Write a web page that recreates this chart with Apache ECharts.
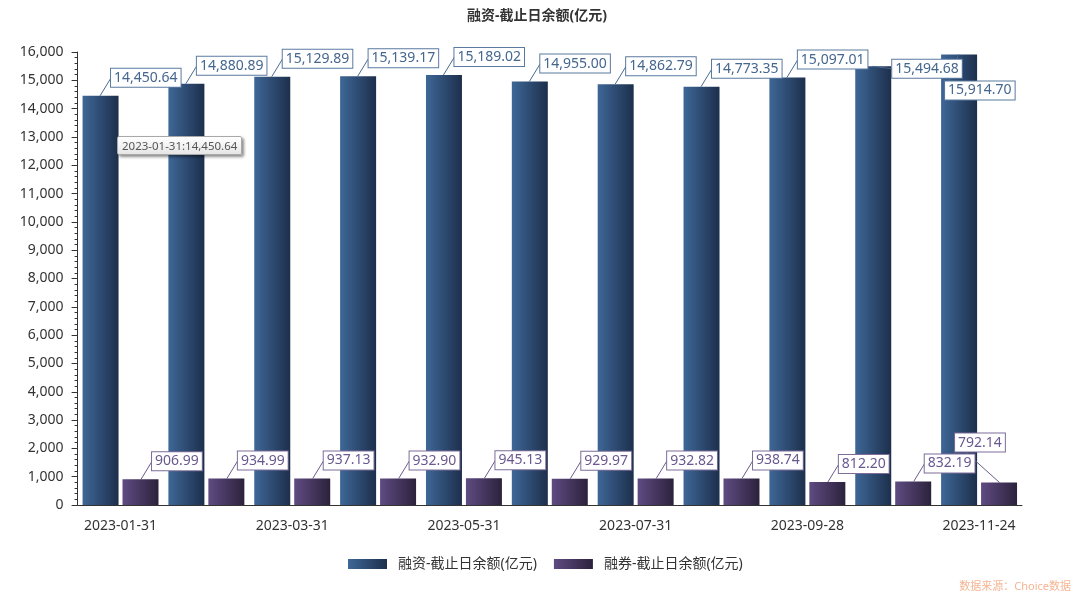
<!DOCTYPE html>
<html><head><meta charset="utf-8">
<script src="https://cdn.jsdelivr.net/npm/echarts@6/dist/echarts.min.js"></script>
<style>html,body{margin:0;padding:0;background:#fff}#c{width:1080px;height:598px}</style>
</head><body><div id="c"></div>
<script>
// ---- data ----
const categories = ['2023-01-31','2023-02-28','2023-03-31','2023-04-28','2023-05-31','2023-06-30','2023-07-31','2023-08-31','2023-09-28','2023-10-31','2023-11-24'];
const marginBalance = [14450.64,14880.89,15129.89,15139.17,15189.02,14955.00,14862.79,14773.35,15097.01,15494.68,15914.70];
const shortBalance = [906.99,934.99,937.13,932.90,945.13,929.97,932.82,938.74,812.20,832.19,792.14];
const seriesNames = ['融资-截止日余额(亿元)','融券-截止日余额(亿元)'];
const chartTitle = '融资-截止日余额(亿元)';
const sourceText = '数据来源：Choice数据';
const yMin = 0, yMax = 16000, yInterval = 1000;

// ---- label placement (style, not data) ----
const DEFAULT_OFF = [11, -18];
const blueOffsetOverrides = {9: [19.5, 2.5], 10: [-13.5, 36]};
const purpleOffsetOverrides = {10: [-44.5, -40]};
const BAR_SHIFT = 20.5;

const FONT = '"Noto Sans","Noto Sans CJK SC",sans-serif';
const fmt2 = v => v.toLocaleString('en-US',{minimumFractionDigits:2,maximumFractionDigits:2});

function grad(c1, c2){
  return {type:'linear',x:0,y:0,x2:1,y2:0,colorStops:[{offset:0,color:c1},{offset:1,color:c2}]};
}

function labelSeries(values, shift, overrides, textColor, borderColor, lineColor){
  return {
    type:'custom', z:5, silent:true, tooltip:{show:false},
    data: values.map((v,i)=>[i,v]),
    encode:{x:0,y:1},
    renderItem:function(params, api){
      const i = api.value(0), v = api.value(1);
      const p = api.coord([i, v]);
      const cx = p[0] + shift, ty = p[1];
      const off = overrides[i] || DEFAULT_OFF;
      const ax = cx + off[0], ay = ty + off[1];
      return {type:'group', children:[
        {type:'line', z2:1, shape:{x1:cx,y1:ty,x2:ax,y2:ay}, style:{stroke:lineColor,lineWidth:1}},
        {type:'text', z2:10, x:ax, y:ay, style:{
          text: fmt2(v), fill:textColor, font:'14px '+FONT, align:'left', verticalAlign:'middle',
          backgroundColor:'#fff', borderColor:borderColor, borderWidth:1, padding:[1,3,1,3], lineHeight:16
        }}
      ]};
    }
  };
}

const chart = echarts.init(document.getElementById('c'));
chart.setOption({
  animation:false,
  backgroundColor:'#fff',
  title:[
    {text:chartTitle, left:462, top:4, textStyle:{fontSize:14,fontWeight:'bold',color:'#333',fontFamily:FONT}},
    {text:sourceText, right:4, bottom:1, textStyle:{fontSize:11,fontWeight:'normal',color:'#f4b594',fontFamily:FONT}}
  ],
  grid:{left:77.6, right:58, top:52, bottom:93, containLabel:false},
  tooltip:{
    trigger:'item', triggerOn:'none', alwaysShowContent:true, transitionDuration:0,
    position:[117,136], padding:[1,4],
    backgroundColor:'#f6f6f6', borderColor:'#a8a8a8', borderWidth:1, borderRadius:2,
    textStyle:{fontSize:11.5,color:'#555',fontFamily:FONT},
    extraCssText:'background:linear-gradient(#ffffff,#e6e6e6);box-shadow:2px 2px 3px rgba(0,0,0,0.45);line-height:15px;',
    formatter:p=>p.name+':'+fmt2(p.value)
  },
  legend:{
    data:seriesNames, left:343, top:552, itemWidth:39, itemHeight:10, itemGap:17,
    icon:'rect',
    textStyle:{fontSize:14,color:'#333',fontFamily:FONT,padding:[0,0,0,6]}
  },
  xAxis:{
    type:'category', data:categories,
    axisLine:{lineStyle:{color:'#333'}},
    axisTick:{alignWithLabel:true, interval:0, length:5, lineStyle:{color:'#333'}},
    axisLabel:{interval:1, margin:14, fontSize:14, color:'#333', fontFamily:FONT}
  },
  yAxis:{
    type:'value', min:yMin, max:yMax, interval:yInterval,
    axisLine:{show:true,lineStyle:{color:'#333'}},
    axisTick:{show:true,length:6,lineStyle:{color:'#333'}},
    minorTick:{show:true,splitNumber:5,length:3,lineStyle:{color:'#333'}},
    splitLine:{show:false},
    axisLabel:{margin:14, fontSize:14, color:'#333', fontFamily:FONT, formatter:v=>v.toLocaleString('en-US')}
  },
  series:[
    {name:seriesNames[0], type:'bar', data:marginBalance, barWidth:36, barGap:'11%',
     itemStyle:{color:grad('#3e6797','#1d2f4c')}},
    {name:seriesNames[1], type:'bar', data:shortBalance, barWidth:36, barGap:'11%',
     itemStyle:{color:grad('#5f4b82','#2c223c')}},
    labelSeries(marginBalance, -BAR_SHIFT, blueOffsetOverrides, '#44668f', '#5a7aa0', '#4a6a90'),
    labelSeries(shortBalance, BAR_SHIFT, purpleOffsetOverrides, '#6a5890', '#7d6d98', '#6d5a8a')
  ]
});
chart.dispatchAction({type:'showTip', seriesIndex:0, dataIndex:0});
</script></body></html>
